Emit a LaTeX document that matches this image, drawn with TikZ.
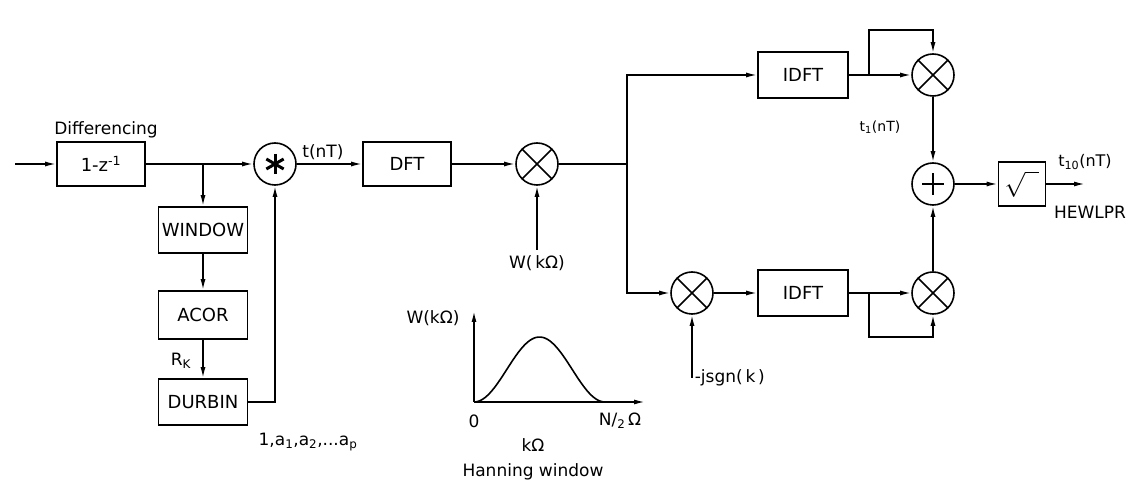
\documentclass[tikz,border=0pt]{standalone}
\usepackage{fontspec}
\setmainfont{DejaVu Sans}
\usepackage{tikz}
\usetikzlibrary{arrows.meta,positioning,calc}

\begin{document}
\begin{tikzpicture}[x=1pt,y=-1pt,line width=1.6pt,>={Latex[length=11pt,width=5pt]},
  font=\fontsize{17}{19}\selectfont,
  blk/.style={draw,minimum width=89pt,minimum height=46pt,inner sep=2pt,font=\fontsize{18}{20}\selectfont},
  mult/.style={circle,draw,minimum size=42pt,inner sep=0pt,
    path picture={\draw (path picture bounding box.north west)--(path picture bounding box.south east)
      (path picture bounding box.north east)--(path picture bounding box.south west);}},
  adder/.style={circle,draw,minimum size=42pt,inner sep=0pt,
    path picture={\draw[line width=2pt] (path picture bounding box.center) ++(-11pt,0pt) -- ++(22pt,0pt)
      (path picture bounding box.center) ++(0pt,-11pt) -- ++(0pt,22pt);}},
  conv/.style={circle,draw,minimum size=42pt,inner sep=0pt,
    path picture={\foreach \a in {90,30,150}
      \draw[line width=3pt] (path picture bounding box.center) ++(\a:10pt) -- ++(\a+180:20pt);}},
  lbl/.style={inner sep=1pt}]
  \useasboundingbox (0,0) rectangle (1136,486);

  % main row
  \coordinate (in) at (15,164);
  \node[blk,minimum width=88pt,minimum height=44pt] (diff) at (101,164) {1-z\textsuperscript{-1}};
  \node[lbl] (difflbl) at (106,130) {Differencing};
  \node[conv] (star) at (275,164) {};
  \node[blk,minimum width=88pt,minimum height=44pt] (dft) at (407,164) {DFT};
  \node[mult] (mulw) at (537,164) {};
  \coordinate (br) at (627,164);

  % LPC branch
  \node[blk] (win) at (203,230) {WINDOW};
  \node[blk,minimum height=48pt] (acor) at (203,315) {ACOR};
  \node[blk] (durb) at (203,402) {DURBIN};
  \node[lbl] (coef) at (308,442) {1,a\textsubscript{1},a\textsubscript{2},...a\textsubscript{p}};

  % hilbert part
  \node[blk,minimum width=90pt] (idftu) at (803,75) {IDFT};
  \node[mult] (mulu) at (933,75) {};
  \node[mult] (mulj) at (692,293) {};
  \node[blk,minimum width=90pt] (idftd) at (803,293) {IDFT};
  \node[mult] (muld) at (933,293) {};
  \node[adder] (add) at (933,184) {};
  \node[blk,minimum width=47pt,minimum height=44pt] (sqr) at (1022,184) {\fontsize{26}{28}\selectfont$\sqrt{\phantom{x}}$};
  \coordinate (out) at (1085,184);

  \coordinate (wk) at (537,250);
  \coordinate (js) at (692,378);
  \coordinate (lu) at (869,75);
  \coordinate (lut) at (869,30);
  \coordinate (ld) at (869,293);
  \coordinate (ldb) at (869,337);

  \draw[->] (in) -- (diff);
  \draw[->] (diff) -- (star);
  \draw[->] (win.north |- diff) -- (win);
  \draw[->] (win) -- (acor);
  \draw[->] (acor) -- node[left=8pt,pos=0.55] (rk) {R\textsubscript{K}} (durb);
  \draw[->] (durb) -| (star);
  \draw[->] (star) -- node[above,pos=0.4] (tnt) {t(nT)} (dft);
  \draw[->] (dft) -- (mulw);
  \draw[->] (wk) node[below=1pt] (wlbl) {W(\,kΩ)} -- (mulw);
  \draw (mulw) -- (br);
  \draw[->] (br) |- (idftu);
  \draw[->] (br) |- (mulj);
  \draw[->] (js) node[right=1pt,lbl] (jlbl) {-jsgn(\,k\,)} -- (mulj);
  \draw[->] (mulj) -- (idftd);
  \draw[->] (idftu) -- (mulu);
  \draw[->] (lu) -- (lut) -| (mulu);
  \draw[->] (idftd) -- (muld);
  \draw[->] (ld) -- (ldb) -| (muld);
  \draw[->] (mulu) -- (add);
  \draw[->] (muld) -- (add);
  \draw[->] (add) -- (sqr);
  \draw[->] (sqr) -- (out);
  \node[lbl,font=\fontsize{14}{16}\selectfont] (t1) at (880,127) {t\textsubscript{1}(nT)};
  \node[lbl,font=\fontsize{16}{18}\selectfont] (t10) at (1085,162) {t\textsubscript{10}(nT)};
  \node[lbl] (hew) at (1090,212) {HEWLPR};

  % hanning window sketch
  \draw[->] (474,402) -- (474,311);
  \draw[->] (474,402) -- (645,402);
  \draw plot[domain=0:131,samples=60,smooth] ({474+\x},{402-65*sin(1.374*\x)*sin(1.374*\x)});
  \node[lbl] (wax) at (433,318) {W(kΩ)};
  \node[lbl] (zero) at (474,421) {0};
  \node[lbl] (nax) at (620,421) {N/\textsubscript{2}\,Ω};
  \node[lbl] (kax) at (533,445) {kΩ};
  \node[lbl] (hann) at (533,472) {Hanning window};
\end{tikzpicture}
\end{document}
